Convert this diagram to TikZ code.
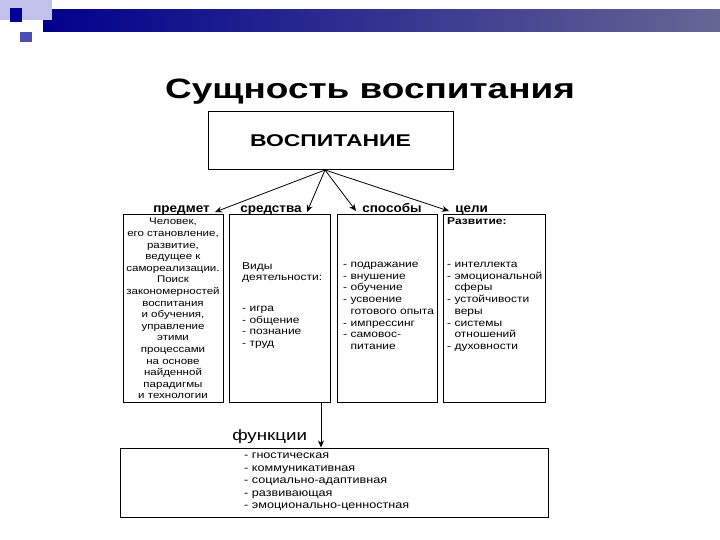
\documentclass[tikz,border=0pt]{standalone}
\usepackage{fontspec}
\usetikzlibrary{arrows.meta}
\setmainfont{Liberation Sans}
\begin{document}
\begin{tikzpicture}[x=1pt,y=-1pt,
  box/.style={draw,line width=1pt},
  lab/.style={font=\bfseries\fontsize{12.5}{14}\selectfont,inner sep=1pt,transform shape,xscale=1.08},
  txt/.style={font=\fontsize{10}{11.7}\selectfont,inner sep=0pt,align=left,transform shape,xscale=1.2},
  arr/.style={-{Stealth[length=7pt,width=6pt]},line width=0.8pt}]
\useasboundingbox (0,0) rectangle (720,540);
\shade[left color=blue!55!black,right color=blue!30!black!60!white] (43,10) rectangle (720,32);
\fill[blue!20!white!85!gray] (0,0) rectangle (52,20);
\fill[blue!60!black] (10,8) rectangle (22,22);
\fill[blue!40!gray] (20,32) rectangle (32,42);
\node[font=\bfseries\fontsize{28}{32}\selectfont,transform shape,xscale=1.32] (title) at (370,92) {Сущность воспитания};
\node[box,minimum width=245,minimum height=58] (v) at (330.5,141) {};
\node[font=\bfseries\fontsize{17}{20}\selectfont,transform shape,xscale=1.35] (vt) at (v) {ВОСПИТАНИЕ};
\coordinate (o) at (325,170);
\node[lab,anchor=base east] (p) at (211,213) {предмет};
\node[lab,anchor=base west] (s) at (239,213) {средства};
\node[lab,anchor=base west] (sp) at (361,213) {способы};
\node[lab,anchor=base west] (c) at (454,213) {цели};
\coordinate (pa) at (215,212);
\coordinate (sa) at (307,212);
\coordinate (spa) at (356,211);
\coordinate (ca) at (449,211);
\draw[arr] (o) -- (pa); \draw[arr] (o) -- (sa);
\draw[arr] (o) -- (spa); \draw[arr] (o) -- (ca);
\node[box,minimum width=100,minimum height=187] (b1) at (173,308.5) {};
\node[box,minimum width=101,minimum height=187] (b2) at (279.5,308.5) {};
\node[box,minimum width=100,minimum height=187] (b3) at (387,308.5) {};
\node[box,minimum width=102,minimum height=187] (b4) at (494,308.5) {};
\node[txt,align=center,anchor=north,font=\fontsize{9.6}{11.6}\selectfont] (t1) at (173,218) {Человек,\\его становление,\\развитие,\\ведущее к\\самореализации.\\Поиск\\закономерностей\\воспитания\\и обучения,\\управление\\этими\\процессами\\на основе\\найденной\\парадигмы\\и технологии};
\node[txt,anchor=north west] (t2a) at (242,262) {Виды\\деятельности:};
\node[txt,anchor=north west] (t2b) at (242,306) {- игра\\- общение\\- познание\\- труд};
\node[txt,anchor=north west] (t3) at (343,262) {- подражание\\- внушение\\- обучение\\- усвоение\\\phantom{- }готового опыта\\- импрессинг\\- самовос-\\\phantom{- }питание};
\node[txt,anchor=north west,font=\bfseries\fontsize{10}{11.7}\selectfont] (t4a) at (447,217) {Развитие:};
\node[txt,anchor=north west] (t4) at (447,262) {- интеллекта\\- эмоциональной\\\phantom{- }сферы\\- устойчивости\\\phantom{- }веры\\- системы\\\phantom{- }отношений\\- духовности};
\node[box,minimum width=428,minimum height=69] (bf) at (334,482.5) {};
\node[font=\fontsize{15}{17}\selectfont,anchor=west,inner sep=0pt,transform shape,xscale=1.25] (f) at (232,437) {функции};
\coordinate (fa) at (321,440);
\draw[line width=0.8pt] (321,402) -- (fa);
\draw[arr] (fa) -- (bf.north -| fa);
\node[txt,anchor=north west,font=\fontsize{10.5}{12.5}\selectfont] (tf) at (244,453) {- гностическая\\- коммуникативная\\- социально-адаптивная\\- развивающая\\- эмоционально-ценностная};
\end{tikzpicture}
\end{document}
